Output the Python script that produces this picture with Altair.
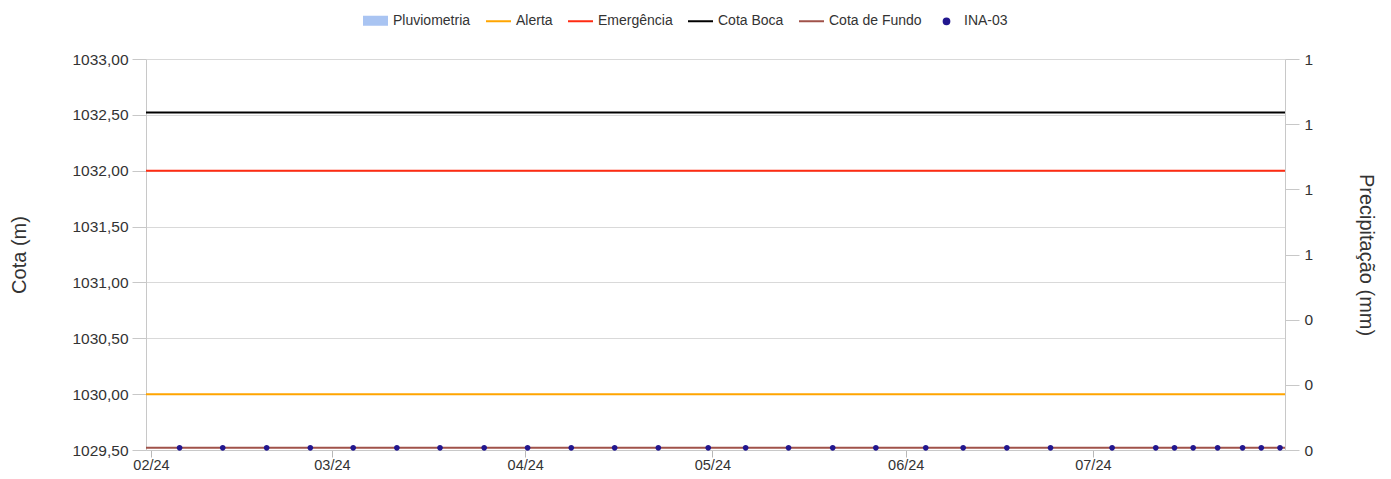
import altair as alt
import pandas as pd

# ---------------- data ----------------
series_names = ["Pluviometria", "Alerta", "Emergência", "Cota Boca", "Cota de Fundo", "INA-03"]
series_colors = ["#a9c4f2", "#ffa500", "#ff2b12", "#000000", "#a0524a", "#22178f"]
series_shapes = [
    "M-0.92,-0.32H0.92V0.32H-0.92Z",
    "M-1,0H1",
    "M-1,0H1",
    "M-1,0H1",
    "M-1,0H1",
    "M-0.23,0A0.23,0.23,0,1,1,0.23,0A0.23,0.23,0,1,1,-0.23,0Z",
]

level_names = ["Alerta", "Emergência", "Cota Boca", "Cota de Fundo"]
level_values = [1030.00, 1032.00, 1032.52, 1029.52]

ina_dates = [
    "2024-02-05T14:00:00Z", "2024-02-12T12:00:00Z", "2024-02-19T13:00:00Z", "2024-02-26T13:00:00Z",
    "2024-03-04T10:00:00Z", "2024-03-11T10:00:00Z", "2024-03-18T08:00:00Z", "2024-03-25T10:00:00Z",
    "2024-04-01T09:00:00Z", "2024-04-08T09:00:00Z", "2024-04-15T08:00:00Z", "2024-04-22T08:00:00Z",
    "2024-04-30T08:00:00Z", "2024-05-06T08:00:00Z", "2024-05-13T05:00:00Z", "2024-05-20T07:00:00Z",
    "2024-05-27T05:00:00Z", "2024-06-04T05:00:00Z", "2024-06-10T05:00:00Z", "2024-06-17T05:00:00Z",
    "2024-06-24T05:00:00Z", "2024-07-04T02:00:00Z", "2024-07-11T02:00:00Z", "2024-07-14T02:00:00Z",
    "2024-07-17T02:00:00Z", "2024-07-21T00:00:00Z", "2024-07-25T00:00:00Z", "2024-07-28T00:00:00Z",
    "2024-07-31T00:00:00Z",
]
ina_values = [
    1029.52, 1029.52, 1029.52, 1029.52, 1029.52, 1029.52, 1029.52, 1029.52,
    1029.52, 1029.52, 1029.52, 1029.52, 1029.52, 1029.52, 1029.52, 1029.52,
    1029.52, 1029.52, 1029.52, 1029.52, 1029.52, 1029.52, 1029.52, 1029.52,
    1029.52, 1029.52, 1029.52, 1029.52, 1029.52,
]

pluv_dates = []
pluv_values = []

cota_ticks = [1029.5, 1030.0, 1030.5, 1031.0, 1031.5, 1032.0, 1032.5, 1033.0]
prec_ticks = [0, 1 / 6, 2 / 6, 3 / 6, 4 / 6, 5 / 6, 1]

# ---------------- tables ----------------
pluv_df = pd.DataFrame({"data": pd.Series(pluv_dates, dtype="object"),
                        "precip": pd.Series(pluv_values, dtype="float"),
                        "serie": pd.Series([], dtype="object")})
levels_df = pd.DataFrame({"serie": level_names, "cota": level_values})
ina_df = pd.DataFrame({"data": ina_dates, "cota": ina_values, "serie": ["INA-03"] * len(ina_dates)})

FONT = "Liberation Sans"
TXT = "#333333"

color_scale = alt.Scale(domain=series_names, range=series_colors)
shape_scale = alt.Scale(domain=series_names, range=series_shapes)
legend = alt.Legend(
    orient="none", legendX=216, legendY=-52, direction="horizontal", columns=6,
    title=None, labelFont=FONT, labelFontSize=14, labelColor=TXT,
    symbolSize=625, symbolStrokeWidth=2, symbolOpacity=1,
    labelOffset=4, columnPadding=11,
)

x_scale = alt.Scale(
    type="utc",
    domain=[alt.DateTime(year=2024, month=2, date=1, utc=True),
            alt.DateTime(year=2024, month=7, date=31, utc=True)],
)
x_axis = alt.Axis(
    format="%m/%y", tickCount="month", labelFlush=False, grid=False, title=None,
    tickSize=7, labelPadding=1, labelFont=FONT, labelFontSize=14.5, labelColor=TXT,
    domainColor="#c8c8c8", tickColor="#b8b8b8",
)

cota_scale = alt.Scale(domain=[1029.5, 1033.0], nice=False, zero=False)
cota_axis = alt.Axis(
    orient="left", values=cota_ticks,
    labelExpr="replace(format(datum.value, '.2f'), '.', ',')",
    title="Cota (m)", titleFont=FONT, titleFontSize=20, titleFontWeight="normal",
    titleColor=TXT, titlePadding=42,
    labelFont=FONT, labelFontSize=15.5, labelColor=TXT, labelPadding=4,
    tickSize=14, tickColor="#c8c8c8", domainColor="#c8c8c8",
    grid=True, gridColor="#d9d9d9",
)

prec_scale = alt.Scale(domain=[0, 1], nice=False, zero=True)
prec_axis = alt.Axis(
    orient="right", values=prec_ticks, format=".0f",
    title="Precipitação (mm)", titleFont=FONT, titleFontSize=20, titleFontWeight="normal",
    titleColor=TXT, titlePadding=43,
    labelFont=FONT, labelFontSize=15.5, labelColor=TXT, labelPadding=5,
    tickSize=14, tickColor="#c8c8c8", domainColor="#c8c8c8", grid=False,
)

bars = alt.Chart(pluv_df).mark_bar(opacity=0.8).encode(
    x=alt.X("data:T", scale=x_scale, axis=x_axis),
    y=alt.Y("precip:Q", scale=prec_scale, axis=prec_axis),
    color=alt.Color("serie:N", scale=color_scale, legend=legend),
)

rules = alt.Chart(levels_df).mark_rule(strokeWidth=2).encode(
    y=alt.Y("cota:Q", scale=cota_scale, axis=cota_axis),
    color=alt.Color("serie:N", scale=color_scale, legend=legend),
)

points = alt.Chart(ina_df).mark_point(filled=True, size=625, opacity=1).encode(
    x=alt.X("data:T", scale=x_scale, axis=x_axis),
    y=alt.Y("cota:Q", scale=cota_scale, axis=cota_axis),
    color=alt.Color("serie:N", scale=color_scale, legend=legend),
    shape=alt.Shape("serie:N", scale=shape_scale, legend=legend),
)

chart = alt.layer(bars, alt.layer(rules, points)).resolve_scale(
    y="independent"
).properties(
    width=1139, height=391,
    autosize=alt.AutoSizeParams(type="none"),
    padding={"left": 138, "top": 51, "right": 98, "bottom": 21},
).configure(font=FONT).configure_view(stroke=None)

chart.save("out.html", embed_options={"renderer": "svg", "actions": False})
